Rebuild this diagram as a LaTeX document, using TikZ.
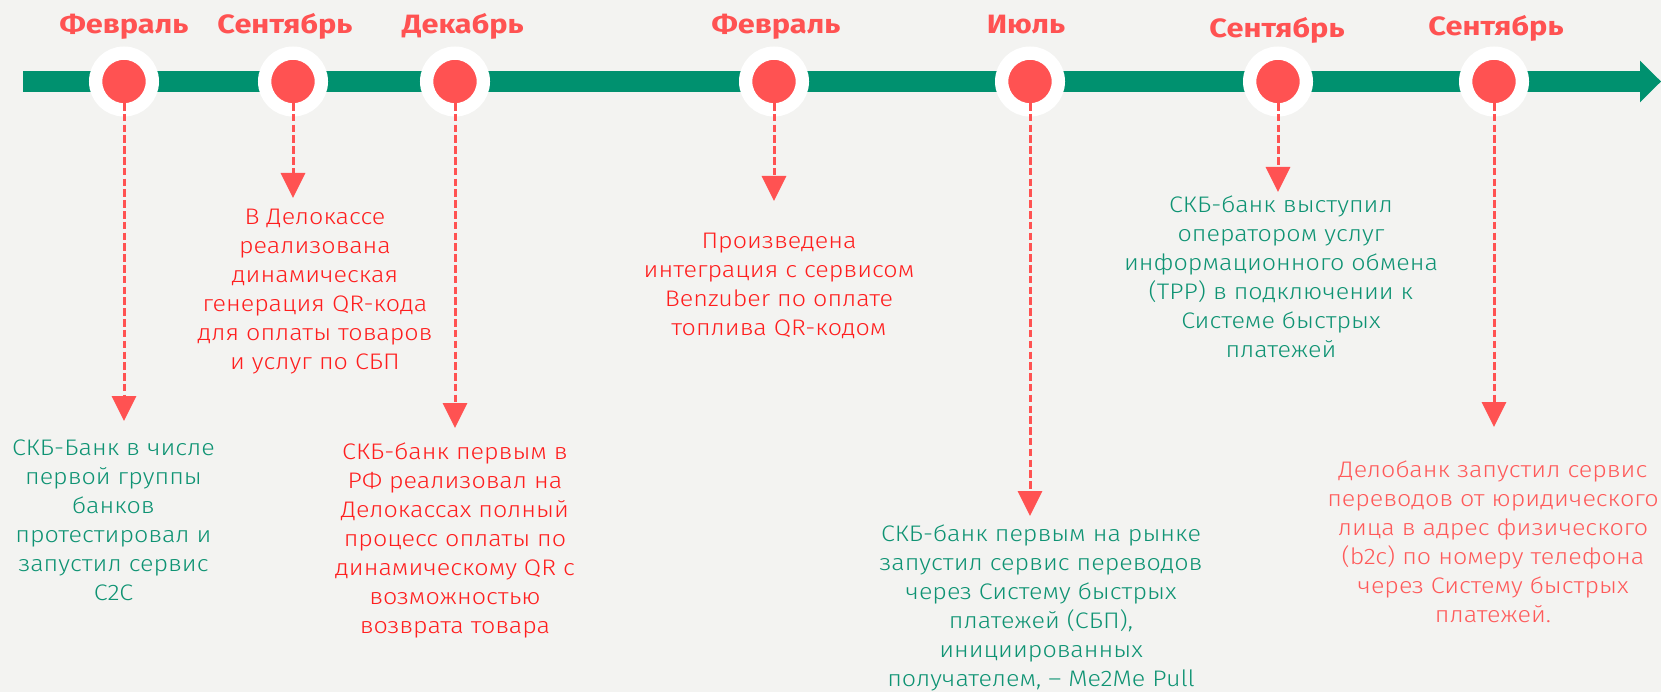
\documentclass[tikz,border=0pt]{standalone}
\usepackage{fontspec}
\setmainfont{Fira Sans}[UprightFont=* Light,BoldFont=* Bold]
\newfontfamily\labelfont{Fira Sans Bold}[FakeStretch=1.16]
\newfontfamily\bodyfont{Fira Sans Light}[FakeStretch=1.115]
\usetikzlibrary{arrows.meta}
\definecolor{bgc}{HTML}{F3F3F1}
\definecolor{barg}{HTML}{00916F}
\definecolor{dotr}{HTML}{FF5252}
\definecolor{txtr}{HTML}{FF1E1E}
\definecolor{txtl}{HTML}{FF5A5A}
\definecolor{txtg}{HTML}{0E9373}
\tikzset{
  dot/.style={circle,fill=dotr,draw=white,line width=13.3pt,minimum size=56.7pt,inner sep=0pt},
  month/.style={anchor=base,inner sep=0pt,text=dotr,font=\labelfont\fontsize{26.5}{30}\selectfont},
  txt/.style={anchor=north,inner sep=0pt,align=center,font=\bodyfont\fontsize{22.5}{29.0}\selectfont,execute at begin node=\rule{0pt}{19pt}},
  link/.style={draw=dotr,line width=3pt,dash pattern=on 7.5pt off 3.3pt,-{Triangle[width=24pt,length=25pt]}},
}
\begin{document}
\begin{tikzpicture}[x=1pt,y=-1pt]
\fill[bgc] (0,0) rectangle (1661,692);
\useasboundingbox (0,0) rectangle (1661,692);
% timeline
\coordinate (bs) at (23,81.5);
\coordinate (be) at (1640,81.5);
\draw[barg,line width=21.6pt] (bs) -- (be);
\fill[barg] (1640,60.7) -- (1661,81.5) -- (1640,102.3) -- cycle;
% dots
\node[dot] (c1) at (124,81.5) {};
\node[dot] (c2) at (293,81.5) {};
\node[dot] (c3) at (455,81.5) {};
\node[dot] (c4) at (774,81.5) {};
\node[dot] (c5) at (1030,81.5) {};
\node[dot] (c6) at (1278,81.5) {};
\node[dot] (c7) at (1494,81.5) {};
% months
\node[month] (m1) at (124,33.3) {Февраль};
\node[month] (m2) at (285,33.3) {Сентябрь};
\node[month] (m3) at (463,33.3) {Декабрь};
\node[month] (m4) at (776,33.3) {Февраль};
\node[month] (m5) at (1026,33.3) {Июль};
\node[month] (m6) at (1277,37.3) {Сентябрь};
\node[month] (m7) at (1496,36) {Сентябрь};
% arrow ends
\coordinate (e1) at (124,421);
\coordinate (e2) at (293,198);
\coordinate (e3) at (455,428);
\coordinate (e4) at (774,201);
\coordinate (e5) at (1030,516);
\coordinate (e6) at (1278,192);
\coordinate (e7) at (1494,427);
\foreach \i in {1,...,7} {\draw[link] (c\i.center) -- (e\i);}
% texts
\node[txt,text=txtg] (t1) at (113.5,440) {СКБ-Банк в числе\\первой группы\\банков\\протестировал и\\запустил сервис\\C2C};
\node[txt,text=txtr] (t2) at (315,209) {В Делокассе\\реализована\\динамическая\\генерация QR-кода\\для оплаты товаров\\и услуг по СБП};
\node[txt,text=txtr] (t3) at (455,443) {СКБ-банк первым в\\РФ реализовал на\\Делокассах полный\\процесс оплаты по\\динамическому QR с\\возможностью\\возврата товара};
\node[txt,text=txtr] (t4) at (779,233) {Произведена\\интеграция с сервисом\\Benzuber по оплате\\топлива QR-кодом};
\node[txt,text=txtg] (t5) at (1041,525) {СКБ-банк первым на рынке\\запустил сервис переводов\\через Систему быстрых\\платежей (СБП),\\инициированных\\получателем, – Me2Me Pull};
\node[txt,text=txtg] (t6) at (1281,196) {СКБ-банк выступил\\оператором услуг\\информационного обмена\\(TPP) в подключении к\\Системе быстрых\\платежей};
\node[txt,text=txtl] (t7) at (1493,461) {Делобанк запустил сервис\\переводов от юридического\\лица в адрес физического\\(b2c) по номеру телефона\\через Систему быстрых\\платежей.};
\end{tikzpicture}
\end{document}
